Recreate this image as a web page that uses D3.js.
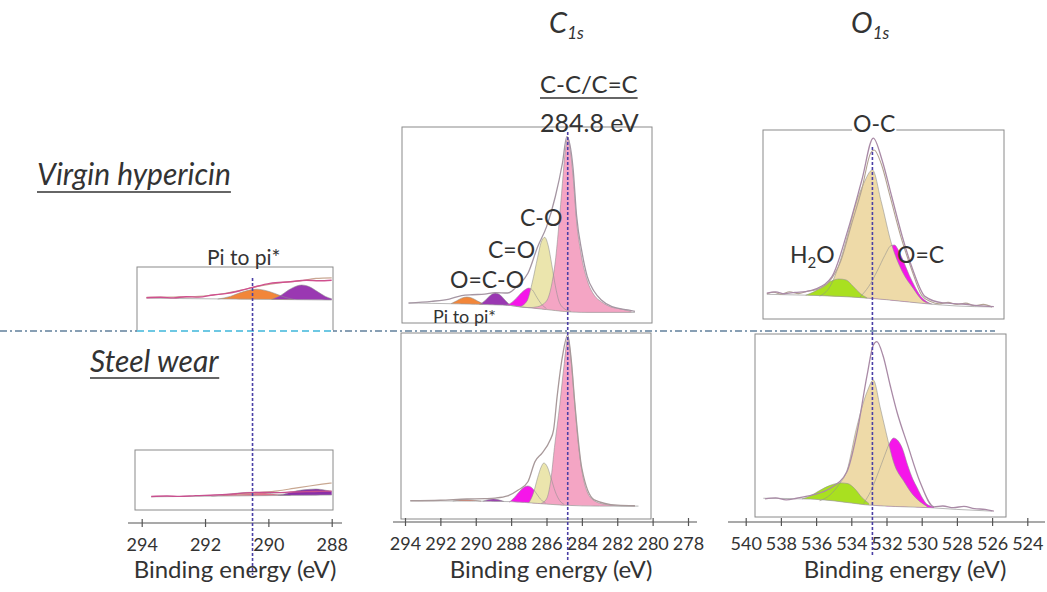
<!DOCTYPE html>
<html><head><meta charset="utf-8">
<script src="https://cdn.jsdelivr.net/npm/d3@7"></script>
<style>
body{margin:0;background:#fff}
svg{display:block}
text{font-family:Lato,'Open Sans',sans-serif;fill:#333}
</style>
</head><body>
<svg id="c" width="1047" height="592"></svg>
<script>
// ---------- tick labels ----------
const ticksPi = [294, 292, 290, 288];
const ticksC1s = [294, 292, 290, 288, 286, 284, 282, 280, 278];
const ticksO1s = [540, 538, 536, 534, 532, 530, 528, 526, 524];

// ---------- reference energies (eV) ----------
const refPi = 290.5;
const refC = 284.8;
const refO = 532.8;

// ---------- Pi to pi* (virgin hypericin) : [eV, intensity] ----------
const piTopBg = [[293.85, 53], [291, 51.5], [288, 50]];
const piTopOrange = [[291.6, 51.5], [291.2, 56], [290.9, 62], [290.6, 66.5], [290.35, 68], [290.1, 66], [289.8, 61], [289.5, 55], [289.2, 51]];
const piTopPurple = [[289.9, 51], [289.6, 58], [289.35, 67], [289.1, 73.5], [288.95, 75], [288.7, 72], [288.45, 64], [288.2, 56], [288.0, 52]];
const piTopEnv = [[293.85, 53.8], [293.4, 54.5], [293, 53.5], [292.6, 55.5], [292.2, 54.8], [291.75, 58.3], [291.3, 61], [290.9, 65.5], [290.5, 71], [289.95, 77.8], [289.3, 80.5], [288.8, 83], [288.4, 82], [288, 83]];
const piTopRaw = [[293.85, 54.5], [293, 55], [292.2, 56], [291.5, 60], [290.9, 66], [290.3, 73], [289.6, 79], [289.0, 82], [288.5, 86], [288, 87]];

// ---------- Pi to pi* (steel wear) ----------
const piBotBg = [[293.7, 22], [291, 23.5], [288, 25]];
const piBotOrange = [[291.8, 23], [291.3, 26], [290.9, 28.5], [290.5, 29.5], [290.1, 28.5], [289.7, 26], [289.3, 24]];
const piBotPurple = [[289.7, 24.2], [289.4, 28], [289.1, 32], [288.8, 34], [288.5, 35], [288.2, 33], [288.0, 31]];
const piBotEnv = [[293.7, 22.5], [293.2, 23.3], [292.8, 22.6], [292.3, 24], [291.7, 25], [291.2, 26.5], [290.7, 28.5], [290.2, 29.5], [289.7, 29], [289.3, 30], [288.8, 30.5], [288.4, 31], [288.0, 31.5]];
const piBotRaw = [[291, 26], [290.3, 29], [289.7, 32], [289.2, 36], [288.7, 40], [288.3, 43], [288, 45]];

// ---------- C1s (virgin hypericin) ----------
const c1sTopBg = [[293.8, 9], [291, 8.5], [289, 8], [288, 7.6], [287.5, 7], [286, 5.5], [285, 4.5], [284, 4], [281, 4]];
const c1sTopOrange = [[291.4, 8.6], [291.1, 10], [290.8, 11.5], [290.5, 12.1], [290.2, 11.5], [289.9, 10], [289.6, 8.6]];
const c1sTopPurple = [[289.8, 8.2], [289.5, 10], [289.2, 12.8], [288.9, 14.2], [288.6, 13], [288.35, 10.5], [288.1, 8.2]];
const c1sTopMagenta = [[288.3, 7.8], [288, 9], [287.7, 11.5], [287.4, 14.5], [287.15, 16.3], [287.0, 16.8], [286.8, 15.8], [286.55, 12], [286.3, 8.5], [286.0, 6]];
const c1sTopTan = [[287.5, 7], [287.1, 10], [286.8, 20], [286.5, 33], [286.3, 41], [286.1, 43.5], [285.9, 39], [285.7, 29], [285.5, 18], [285.3, 10], [285.0, 6], [284.6, 4.5]];
const c1sTopPink = [[288, 7.6], [287, 6.5], [286.5, 7], [286, 10], [285.7, 19], [285.5, 31], [285.3, 50], [285.1, 72], [284.95, 88], [284.8, 96], [284.65, 89], [284.5, 76], [284.3, 52], [284.05, 35], [283.7, 21], [283.3, 13], [282.9, 9.6], [282.4, 7], [281.8, 5.8], [281.2, 4.5]];
const c1sTopEnv = [[293.8, 8.9], [292.5, 9.8], [291.5, 11], [290.8, 12.8], [290.2, 13.3], [289.5, 13.6], [288.9, 14.4], [288.2, 14.2], [287.6, 18.4], [287.05, 24.6], [286.5, 38.6], [286.0, 49], [285.5, 65], [285.1, 82.5], [284.85, 96.5], [284.5, 80], [284.3, 55], [284.0, 36], [283.7, 23], [283.3, 15], [282.9, 10.5], [282.3, 7], [281.4, 5.3], [281.0, 4.5]];

// ---------- C1s (steel wear) ----------
const c1sBotBg = [[293.7, 8], [290, 7.8], [288, 7.5], [286.5, 6.5], [285, 5.5], [283, 5], [280.8, 5]];
const c1sBotOrange = [[291.3, 7.8], [290.9, 8.4], [290.5, 8.6], [290.1, 8.3], [289.7, 7.8]];
const c1sBotPurple = [[289.6, 7.7], [289.3, 8.6], [289.0, 9.0], [288.7, 8.5], [288.4, 7.6]];
const c1sBotMagenta = [[288.1, 7.2], [287.8, 10], [287.5, 13.5], [287.25, 15.7], [287.05, 16.3], [286.85, 15.5], [286.6, 12.5], [286.35, 9], [286.05, 6.8]];
const c1sBotTan = [[287.0, 6.8], [286.75, 12], [286.5, 21], [286.3, 27], [286.15, 29.2], [285.95, 27], [285.75, 21], [285.5, 13], [285.25, 8], [285.0, 6]];
const c1sBotPink = [[286.3, 6.5], [286.0, 9], [285.75, 20], [285.55, 38], [285.25, 62], [285.0, 85], [284.8, 99.4], [284.6, 86], [284.4, 62], [284.2, 40], [284.0, 25], [283.7, 13], [283.3, 8], [282.7, 6], [281.5, 5], [281.0, 5]];
const c1sBotEnv = [[293.7, 8], [292, 8.3], [290.5, 9], [289.5, 9.2], [288.9, 9.5], [288.2, 10.7], [287.6, 14], [287.05, 18.7], [286.65, 30], [286.25, 34.8], [285.8, 42], [285.6, 47.8], [285.4, 66.5], [285.1, 89], [284.8, 101], [284.6, 87], [284.4, 63], [284.0, 26], [283.3, 8.5], [282.0, 5.5], [281.0, 5.2]];

// ---------- O1s (virgin hypericin) ----------
const o1sTopBg = [[538.8, 11.5], [536.5, 11], [534, 10], [532, 8.5], [530, 6.5], [528, 5], [526, 4.5]];
const o1sTopGreen = [[536.6, 11], [536.1, 13], [535.6, 16], [535.1, 19], [534.7, 20], [534.3, 19.5], [533.9, 16], [533.5, 12], [533.1, 9.5]];
const o1sTopTan = [[535.8, 10.5], [535.2, 16], [534.7, 28], [534.2, 45], [533.8, 60], [533.3, 73], [532.8, 80.6], [532.3, 63], [531.7, 39], [531.1, 24], [530.5, 15], [530.0, 8.5], [529.5, 6.2]];
const o1sTopMagenta = [[533.5, 10], [533.0, 16], [532.5, 25], [532.1, 33], [531.75, 38.5], [531.55, 38.9], [531.3, 35.5], [531.0, 29], [530.7, 22], [530.4, 16], [530.1, 11], [529.8, 8], [529.4, 6]];
const o1sTopEnv = [[538.8, 12.2], [538.3, 12.8], [537.8, 11.8], [537.2, 12.6], [536.6, 13], [536, 14.5], [535.1, 21.3], [534.2, 47], [533.4, 75], [532.75, 98.3], [532.25, 86], [531.7, 65.7], [531.1, 43.5], [530.5, 25], [529.8, 10.2], [528.8, 6.7], [527.7, 6.1], [526.8, 5.2], [525.9, 4.6]];
const o1sTopRaw = [[538.8, 11.8], [538.4, 12.6], [538, 11.6], [537.5, 12.9], [537, 11.9], [536.5, 13.2], [536, 14], [535.3, 18], [534.6, 30], [534, 50], [533.4, 70], [532.9, 90], [532.7, 91.7], [532.3, 84], [531.8, 66], [531.2, 44], [530.6, 26], [530.0, 11], [529.5, 7.5], [529.0, 6.2], [528.5, 7], [528, 5.8], [527.5, 6.6], [527, 5.2], [526.5, 5.9], [526, 4.4]];

// ---------- O1s (steel wear) ----------
const o1sBotBg = [[539, 8], [536.3, 7.5], [535, 6.5], [533.2, 4.2], [531.5, 3.2], [529.5, 2.5], [528, 1.5], [526, 0.5]];
const o1sBotGreen = [[536.8, 7.6], [536.3, 9.5], [535.8, 12.5], [535.2, 15.5], [534.6, 16.9], [534.2, 16.5], [533.8, 13.5], [533.4, 8.5], [533.0, 5]];
const o1sBotTan = [[535.8, 6.5], [535.2, 10], [534.7, 16], [534.25, 24], [533.7, 49], [533.1, 70], [532.75, 76.7], [532.35, 60.5], [531.95, 43], [531.6, 29], [531.0, 17.6], [530.5, 10], [529.7, 3.2]];
const o1sBotMagenta = [[533.3, 5], [532.9, 12], [532.5, 22], [532.1, 33], [531.8, 40.5], [531.6, 43], [531.35, 41.5], [531.1, 37], [530.8, 27.3], [530.5, 19], [530.25, 14], [529.95, 8], [529.7, 4.5], [529.3, 3]];
const o1sBotEnv = [[538.9, 7.6], [538.3, 8.2], [537.7, 7], [537.1, 8], [536.2, 9.9], [535.2, 13.8], [534.25, 23.4], [533.7, 44.8], [533.1, 79.7], [532.75, 97], [532.55, 99], [532.2, 91], [531.8, 74], [531.4, 58], [530.8, 39], [530.1, 17.6], [529.3, 3], [528.8, 3.5], [528.2, 2.5], [527.6, 3.3], [527, 2], [526.4, 1.5], [525.9, 0.5]];

// ================= drawing =================
const svg = d3.select('#c');
svg.append('rect').attr('width', 1047).attr('height', 592).attr('fill', '#fff');
const defs = svg.append('defs');

const COL = {
  pink: '#f4a5c4', tanC: '#ebe5ad', tanO: '#eedaa8', magenta: '#f516e9',
  purple: '#9a38b2', orange: '#f2863a', green: '#a9e020',
  outline: '#8d8d8d', box: '#8a8a8a'
};

const xPi = d3.scaleLinear().domain([294, 288]).range([141.7, 331.7]);
const xC = d3.scaleLinear().domain([294, 278]).range([405, 688]);
const xO = d3.scaleLinear().domain([540, 524]).range([745.7, 1027.3]);

let clipN = 0;
function drawPanel(p) {
  const [bx0, by0, bx1, by1] = p.box;
  const id = 'clip' + (clipN++);
  defs.append('clipPath').attr('id', id).append('rect')
    .attr('x', bx0).attr('y', by0).attr('width', bx1 - bx0).attr('height', by1 - by0);
  const g = svg.append('g').attr('clip-path', `url(#${id})`);
  const bgAt = d3.scaleLinear().domain(p.bg.map(d => d[0])).range(p.bg.map(d => d[1])).clamp(true);
  const area = d3.area().x(d => p.x(d[0])).y0(d => p.y(bgAt(d[0]))).y1(d => p.y(d[1])).curve(d3.curveMonotoneX);
  const line = d3.line().x(d => p.x(d[0])).y(d => p.y(d[1])).curve(d3.curveMonotoneX);
  p.comps.forEach(c => {
    g.append('path').attr('d', area(c.data)).attr('fill', c.color).attr('stroke', 'none');
  });
  p.comps.forEach(c => {
    g.append('path').attr('d', line(c.data)).attr('fill', 'none').attr('stroke', COL.outline).attr('stroke-width', 0.7).attr('opacity', 0.8);
  });
  g.append('path').attr('d', line(p.bg)).attr('fill', 'none').attr('stroke', '#9a9a9a').attr('stroke-width', 0.7);
  p.lines.forEach(l => {
    g.append('path').attr('d', line(l.data)).attr('fill', 'none').attr('stroke', l.color).attr('stroke-width', l.w);
  });
  svg.append('rect').attr('x', bx0).attr('y', by0).attr('width', bx1 - bx0).attr('height', by1 - by0)
    .attr('fill', 'none').attr('stroke', COL.box).attr('stroke-width', 1);
}

// Pi to pi* panels
drawPanel({box: [137, 267, 333, 331], x: xPi, y: d3.scaleLinear().domain([0, 100]).range([330, 270]),
  bg: piTopBg,
  comps: [{data: piTopOrange, color: COL.orange}, {data: piTopPurple, color: COL.purple}],
  lines: [{data: piTopRaw, color: '#c9a892', w: 1.2}, {data: piTopEnv, color: '#d0508f', w: 1.4}]});
drawPanel({box: [135, 450, 333, 510], x: xPi, y: d3.scaleLinear().domain([0, 100]).range([510, 450]),
  bg: piBotBg,
  comps: [{data: piBotOrange, color: '#e0708a'}, {data: piBotPurple, color: '#8a2fa8'}],
  lines: [{data: piBotRaw, color: '#c9a892', w: 1.2}, {data: piBotEnv, color: '#c8508f', w: 1.3}]});

// C1s panels
drawPanel({box: [402, 127, 652, 323], x: xC, y: d3.scaleLinear().domain([0, 100]).range([320, 130]),
  bg: c1sTopBg,
  comps: [{data: c1sTopOrange, color: COL.orange}, {data: c1sTopPurple, color: COL.purple},
          {data: c1sTopMagenta, color: COL.magenta}, {data: c1sTopTan, color: COL.tanC},
          {data: c1sTopPink, color: COL.pink}],
  lines: [{data: c1sTopEnv, color: '#a596a3', w: 1.3}]});
drawPanel({box: [401, 333, 651, 519], x: xC, y: d3.scaleLinear().domain([0, 100]).range([515, 337]),
  bg: c1sBotBg,
  comps: [{data: c1sBotOrange, color: '#e8806a'}, {data: c1sBotPurple, color: COL.purple},
          {data: c1sBotMagenta, color: COL.magenta}, {data: c1sBotTan, color: COL.tanC},
          {data: c1sBotPink, color: COL.pink}],
  lines: [{data: c1sBotEnv, color: '#a8999a', w: 1.3}]});

// O1s panels
drawPanel({box: [763, 130, 1004, 319], x: xO, y: d3.scaleLinear().domain([0, 100]).range([315, 135]),
  bg: o1sTopBg,
  comps: [{data: o1sTopMagenta, color: COL.magenta}, {data: o1sTopTan, color: COL.tanO},
          {data: o1sTopGreen, color: COL.green}],
  lines: [{data: o1sTopRaw, color: '#b3a393', w: 1.1}, {data: o1sTopEnv, color: '#a98aa6', w: 1.3}]});
drawPanel({box: [755, 334, 1006, 517], x: xO, y: d3.scaleLinear().domain([0, 100]).range([512, 340]),
  bg: o1sBotBg,
  comps: [{data: o1sBotMagenta, color: COL.magenta}, {data: o1sBotTan, color: COL.tanO},
          {data: o1sBotGreen, color: COL.green}],
  lines: [{data: o1sBotEnv, color: '#a98aa6', w: 1.3}]});

// ---------- horizontal separator ----------
svg.append('line').attr('x1', 0).attr('x2', 995).attr('y1', 331).attr('y2', 331)
  .attr('stroke', '#61809c').attr('stroke-width', 1.3).attr('stroke-dasharray', '7,3,2,3');
svg.append('line').attr('x1', 137).attr('x2', 333).attr('y1', 331).attr('y2', 331)
  .attr('stroke', '#fff').attr('stroke-width', 2);
svg.append('line').attr('x1', 137).attr('x2', 333).attr('y1', 331).attr('y2', 331)
  .attr('stroke', '#3fb6da').attr('stroke-width', 1.4).attr('stroke-dasharray', '7,4');

// ---------- axes ----------
function drawAxis(scale, ticks, y, x0, x1) {
  svg.append('line').attr('x1', x0).attr('x2', x1).attr('y1', y).attr('y2', y)
    .attr('stroke', '#555').attr('stroke-width', 1.2);
  const ax = svg.append('g').attr('transform', `translate(0,${y})`)
    .call(d3.axisBottom(scale).tickValues(ticks).tickFormat(d3.format('d')).tickSize(4));
  ax.select('.domain').remove();
  ax.selectAll('.tick line').attr('y1', -4).attr('y2', 4).attr('stroke', '#555').attr('stroke-width', 1.2);
  ax.selectAll('.tick text').attr('y', 28).attr('dy', 0)
    .style('font-family', "Lato,'Open Sans',sans-serif").style('font-size', '18px').attr('fill', '#444');
}
drawAxis(xPi, ticksPi, 523, 128, 342);
drawAxis(xC, ticksC1s, 522, 393, 697);
drawAxis(xO, ticksO1s, 522, 728, 1045);

function axisTitle(cx) {
  svg.append('text').attr('x', cx).attr('y', 578).attr('text-anchor', 'middle')
    .style('font-size', '24px').attr('fill', '#333').text('Binding energy (eV)');
}
axisTitle(235); axisTitle(551); axisTitle(905);

// ---------- reference dashed verticals ----------
function vref(x, y0, y1) {
  svg.append('line').attr('x1', x).attr('x2', x).attr('y1', y0).attr('y2', y1)
    .attr('stroke', '#4a3fa6').attr('stroke-width', 1.6).attr('stroke-dasharray', '3,2');
}
vref(xPi(refPi), 278, 575);
vref(xC(refC), 132, 562);
vref(xO(refO), 147, 556);

// ---------- text ----------
function label(x, y, txt, size, opts = {}) {
  const t = svg.append('text').attr('x', x).attr('y', y).style('font-size', size + 'px')
    .attr('fill', opts.fill || '#333');
  if (opts.italic) t.style('font-style', 'italic');
  if (opts.anchor) t.attr('text-anchor', opts.anchor);
  t.text(txt);
  return t;
}
function underline(t, dy) {
  const b = t.node().getBBox();
  svg.append('line').attr('x1', b.x).attr('x2', b.x + b.width).attr('y1', +t.attr('y') + dy).attr('y2', +t.attr('y') + dy)
    .attr('stroke', '#333').attr('stroke-width', 1.5);
}
function subTitle(x, main, sub) {
  const t = svg.append('text').attr('x', x).attr('y', 33).style('font-style', 'italic').attr('fill', '#222');
  t.append('tspan').style('font-size', '29px').text(main);
  t.append('tspan').attr('dy', 6).style('font-size', '17px').text(sub);
}
subTitle(549, 'C', '1s');
subTitle(851, 'O', '1s');

underline(label(540, 93, 'C-C/C=C', 24), 5);
label(540, 132, '284.8 eV', 25);

underline(label(37, 185, 'Virgin hypericin', 30, {italic: true}), 7);
underline(label(90, 372, 'Steel wear', 30, {italic: true}), 6);

label(207, 265, 'Pi to pi*', 21);
label(433, 323, 'Pi to pi*', 18);
label(520, 226, 'C-O', 23);
label(488, 258, 'C=O', 23);
label(450, 288, 'O=C-O', 23);

// O-C label with white background over the box edge
const oc = label(853, 132, 'O-C', 23);
const ob = oc.node().getBBox();
svg.insert('rect', () => oc.node()).attr('x', ob.x - 1).attr('y', ob.y + 2).attr('width', ob.width + 2).attr('height', ob.height - 4).attr('fill', '#fff');

const h2o = svg.append('text').attr('x', 790).attr('y', 263).attr('fill', '#333');
h2o.append('tspan').style('font-size', '23px').text('H');
h2o.append('tspan').attr('dy', 5).style('font-size', '15px').text('2');
h2o.append('tspan').attr('dy', -5).style('font-size', '23px').text('O');

label(897, 263, 'O=C', 23);
</script>
</body></html>
